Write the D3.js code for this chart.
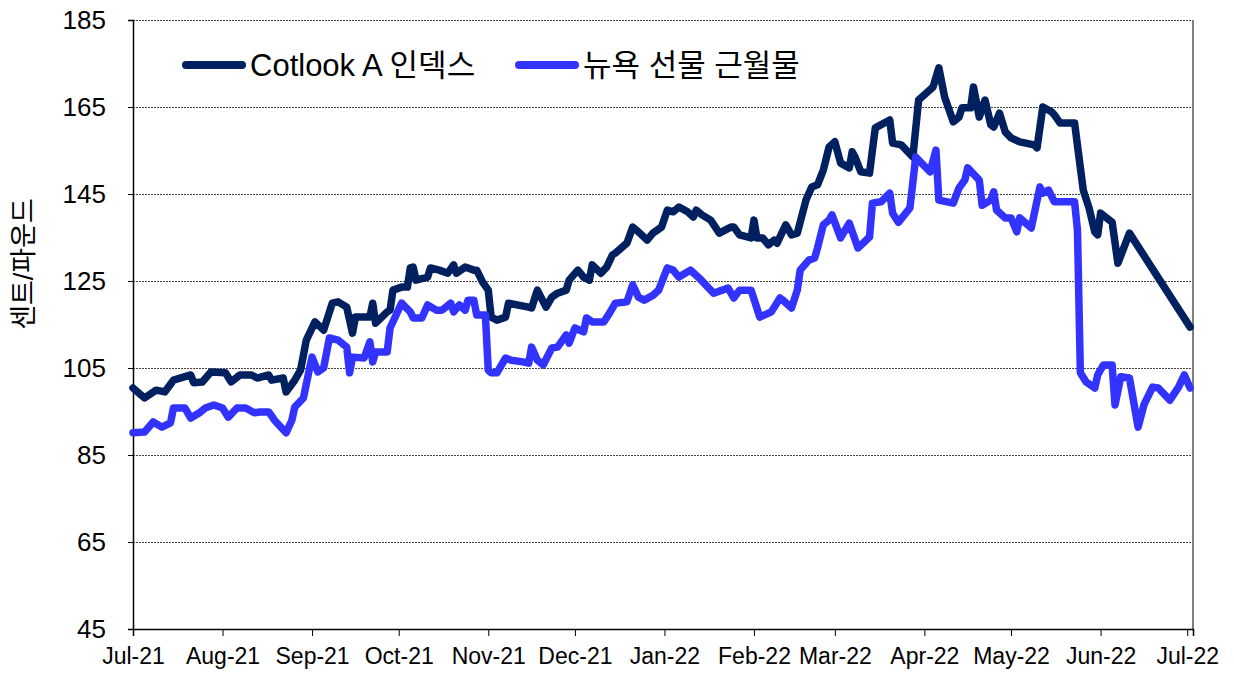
<!DOCTYPE html>
<html>
<head>
<meta charset="utf-8">
<script src="https://cdn.jsdelivr.net/npm/d3@7"></script>
<style>
  body { margin: 0; background: #fff; }
  text { font-family: "Liberation Sans", Arial, "Noto Sans CJK KR", sans-serif; fill: #000; }
</style>
</head>
<body>
<svg id="chart" width="1234" height="673"></svg>
<script>
// series names
const seriesNames = ["Cotlook A 인덱스", "뉴욕 선물 근월물"];
const yTicks = [45, 65, 85, 105, 125, 145, 165, 185];
const monthTicks = ["2021-07-01","2021-08-01","2021-09-01","2021-10-01","2021-11-01","2021-12-01",
  "2022-01-01","2022-02-01","2022-03-01","2022-04-01","2022-05-01","2022-06-01","2022-07-01"];

// Cotlook A index (cents/lb)
const cotlook = [
  ["2021-07-01",100.4],["2021-07-05",98.1],["2021-07-09",99.9],["2021-07-12",99.5],["2021-07-15",102.2],
  ["2021-07-21",103.4],["2021-07-22",101.6],["2021-07-25",101.8],["2021-07-28",104.1],["2021-08-02",103.9],
  ["2021-08-04",101.8],["2021-08-07",103.4],["2021-08-11",103.4],["2021-08-13",102.7],["2021-08-17",103.4],
  ["2021-08-18",102.2],["2021-08-22",102.7],["2021-08-23",99.5],["2021-08-26",102.2],["2021-08-28",104.5],
  ["2021-08-30",111.4],["2021-09-02",115.6],["2021-09-05",113.7],["2021-09-08",119.9],["2021-09-10",120.2],
  ["2021-09-13",119.0],["2021-09-15",113.0],["2021-09-16",116.7],["2021-09-21",116.7],["2021-09-22",119.9],
  ["2021-09-23",115.3],["2021-09-27",117.9],["2021-09-28",118.3],["2021-09-29",122.9],["2021-10-02",123.6],
  ["2021-10-04",123.6],["2021-10-05",128.0],["2021-10-06",128.2],["2021-10-07",125.2],["2021-10-11",125.9],
  ["2021-10-12",128.0],["2021-10-15",127.5],["2021-10-18",126.8],["2021-10-20",128.7],["2021-10-21",126.8],
  ["2021-10-24",128.2],["2021-10-27",127.5],["2021-10-28",127.5],["2021-10-30",124.8],["2021-11-01",122.9],
  ["2021-11-02",116.7],["2021-11-04",116.0],["2021-11-07",116.7],["2021-11-08",119.9],["2021-11-15",119.0],
  ["2021-11-16",118.8],["2021-11-18",122.9],["2021-11-21",119.0],["2021-11-23",121.3],["2021-11-25",122.2],
  ["2021-11-28",122.9],["2021-11-29",125.2],["2021-12-02",127.5],["2021-12-04",125.9],["2021-12-06",125.2],
  ["2021-12-07",128.7],["2021-12-10",126.8],["2021-12-12",128.2],["2021-12-14",131.0],["2021-12-15",131.4],
  ["2021-12-19",133.7],["2021-12-21",137.4],["2021-12-23",136.3],["2021-12-26",134.4],["2021-12-28",136.0],
  ["2021-12-31",137.4],["2022-01-02",141.3],["2022-01-04",140.9],["2022-01-06",142.0],["2022-01-09",140.9],
  ["2022-01-11",139.7],["2022-01-12",141.3],["2022-01-14",140.2],["2022-01-17",139.0],["2022-01-20",136.0],
  ["2022-01-24",137.4],["2022-01-25",137.4],["2022-01-27",135.6],["2022-01-31",134.9],["2022-02-01",139.0],
  ["2022-02-02",134.9],["2022-02-04",134.9],["2022-02-06",133.3],["2022-02-08",134.4],["2022-02-09",133.7],
  ["2022-02-12",137.9],["2022-02-14",135.6],["2022-02-16",136.0],["2022-02-19",143.6],["2022-02-21",146.6],
  ["2022-02-23",147.1],["2022-02-25",150.5],["2022-02-27",155.8],["2022-03-01",157.0],["2022-03-03",152.1],
  ["2022-03-06",151.0],["2022-03-07",154.7],["2022-03-08",153.5],["2022-03-10",150.1],["2022-03-13",149.8],
  ["2022-03-15",160.2],["2022-03-20",162.0],["2022-03-21",156.7],["2022-03-24",156.3],["2022-03-28",153.5],
  ["2022-03-30",166.6],["2022-04-04",169.6],["2022-04-06",174.0],["2022-04-08",167.3],["2022-04-11",161.6],
  ["2022-04-13",162.7],["2022-04-14",164.8],["2022-04-17",164.8],["2022-04-18",169.6],["2022-04-20",162.7],
  ["2022-04-22",166.6],["2022-04-24",160.9],["2022-04-25",160.4],["2022-04-27",163.6],["2022-04-29",159.3],
  ["2022-05-01",157.9],["2022-05-04",157.0],["2022-05-09",156.3],["2022-05-10",155.6],["2022-05-12",165.0],
  ["2022-05-15",163.9],["2022-05-16",163.2],["2022-05-18",161.3],["2022-05-23",161.3],["2022-05-26",145.9],
  ["2022-05-28",141.8],["2022-05-30",136.3],["2022-05-31",135.6],["2022-06-01",140.6],["2022-06-05",138.5],
  ["2022-06-07",129.1],["2022-06-11",136.0],["2022-07-02",114.4]
];

// NY futures nearby (cents/lb)
const nyFutures = [
  ["2021-07-01",90.1],["2021-07-05",90.3],["2021-07-08",92.6],["2021-07-11",91.4],["2021-07-14",92.4],
  ["2021-07-15",95.8],["2021-07-19",95.8],["2021-07-21",93.5],["2021-07-24",94.7],["2021-07-26",95.8],
  ["2021-07-29",96.5],["2021-08-01",95.8],["2021-08-03",93.7],["2021-08-06",95.8],["2021-08-09",95.8],
  ["2021-08-12",94.7],["2021-08-14",94.9],["2021-08-17",94.9],["2021-08-19",93.0],["2021-08-23",90.1],
  ["2021-08-25",93.0],["2021-08-26",96.0],["2021-08-29",98.1],["2021-08-31",104.5],["2021-09-01",107.5],
  ["2021-09-03",104.1],["2021-09-05",105.0],["2021-09-07",111.9],["2021-09-10",111.4],["2021-09-13",109.8],
  ["2021-09-14",103.9],["2021-09-15",107.5],["2021-09-19",107.3],["2021-09-21",111.0],["2021-09-22",106.4],
  ["2021-09-23",108.7],["2021-09-27",108.7],["2021-09-28",114.2],["2021-10-02",119.9],["2021-10-05",117.9],
  ["2021-10-06",116.5],["2021-10-09",116.5],["2021-10-11",119.5],["2021-10-14",118.3],["2021-10-16",118.3],
  ["2021-10-19",119.9],["2021-10-20",117.9],["2021-10-22",119.5],["2021-10-24",118.3],["2021-10-25",120.6],
  ["2021-10-27",120.6],["2021-10-28",117.2],["2021-10-31",117.2],["2021-11-01",104.5],["2021-11-02",103.9],
  ["2021-11-04",103.9],["2021-11-07",107.3],["2021-11-09",106.8],["2021-11-13",106.4],["2021-11-15",106.1],
  ["2021-11-16",109.8],["2021-11-18",106.8],["2021-11-20",105.7],["2021-11-23",109.6],["2021-11-25",109.8],
  ["2021-11-28",112.6],["2021-11-29",110.7],["2021-12-01",114.2],["2021-12-04",113.3],["2021-12-05",116.5],
  ["2021-12-07",115.6],["2021-12-11",115.6],["2021-12-13",117.6],["2021-12-15",119.9],["2021-12-19",120.2],
  ["2021-12-21",124.1],["2021-12-23",121.3],["2021-12-25",120.6],["2021-12-28",121.7],["2021-12-30",122.9],
  ["2022-01-02",128.0],["2022-01-04",127.5],["2022-01-06",125.9],["2022-01-10",127.5],["2022-01-13",125.7],
  ["2022-01-16",123.6],["2022-01-18",122.2],["2022-01-21",122.9],["2022-01-23",123.4],["2022-01-25",121.1],
  ["2022-01-27",122.9],["2022-01-31",122.9],["2022-02-02",118.8],["2022-02-03",116.7],["2022-02-07",117.9],
  ["2022-02-10",121.1],["2022-02-11",120.6],["2022-02-14",118.8],["2022-02-16",122.9],["2022-02-17",127.5],
  ["2022-02-20",129.8],["2022-02-22",130.3],["2022-02-23",132.6],["2022-02-25",137.9],["2022-02-27",139.0],
  ["2022-02-28",140.2],["2022-03-03",134.9],["2022-03-06",138.3],["2022-03-09",132.6],["2022-03-13",135.1],
  ["2022-03-14",142.9],["2022-03-17",143.2],["2022-03-20",145.2],["2022-03-21",140.6],["2022-03-23",138.5],
  ["2022-03-27",141.8],["2022-03-29",153.5],["2022-04-03",150.1],["2022-04-05",155.1],["2022-04-06",143.6],
  ["2022-04-11",142.9],["2022-04-13",146.4],["2022-04-15",148.2],["2022-04-16",151.0],["2022-04-20",148.2],
  ["2022-04-21",142.4],["2022-04-24",143.6],["2022-04-25",145.5],["2022-04-26",141.3],["2022-04-29",139.5],
  ["2022-05-01",139.5],["2022-05-03",136.3],["2022-05-04",139.5],["2022-05-08",137.2],["2022-05-11",146.6],
  ["2022-05-12",145.2],["2022-05-14",145.9],["2022-05-16",143.2],["2022-05-23",143.2],["2022-05-24",136.7],
  ["2022-05-25",103.9],["2022-05-27",101.8],["2022-05-30",100.4],["2022-05-31",103.4],["2022-06-02",105.7],
  ["2022-06-05",105.7],["2022-06-06",96.5],["2022-06-08",103.0],["2022-06-11",102.7],["2022-06-14",91.4],
  ["2022-06-16",96.5],["2022-06-19",100.6],["2022-06-21",100.4],["2022-06-25",97.6],["2022-06-28",100.6],
  ["2022-06-30",103.4],["2022-07-02",100.4]
];

const parse = d3.timeParse("%Y-%m-%d");
const fmt = d3.timeFormat("%b-%y");
const colors = ["#002060", "#3333ff"];

const svg = d3.select("#chart");
const plotL = 133, plotR = 1193, plotT = 20, plotB = 629;

const x = d3.scaleTime()
    .domain([parse("2021-07-01"), parse("2022-07-03")])
    .range([plotL, plotR]);
const y = d3.scaleLinear().domain([45, 185]).range([plotB, plotT]);

// grid lines
svg.append("g")
    .selectAll("line")
    .data(yTicks.filter(v => v > 45))
    .join("line")
    .attr("x1", plotL).attr("x2", plotR - 1)
    .attr("y1", d => y(d) + 0.5).attr("y2", d => y(d) + 0.5)
    .attr("stroke", "#444")
    .attr("stroke-width", 1)
    .attr("stroke-dasharray", "2,1");

// right border
svg.append("line")
    .attr("x1", plotR).attr("x2", plotR)
    .attr("y1", plotT).attr("y2", plotB)
    .attr("stroke", "#808080").attr("stroke-width", 2);

// y axis
const yAxis = svg.append("g")
    .attr("transform", `translate(${plotL},0)`)
    .call(d3.axisLeft(y).tickValues(yTicks).tickSize(5).tickPadding(22).tickFormat(d3.format("d")));
yAxis.select(".domain").attr("stroke", "#000").attr("stroke-width", 1.5);
yAxis.selectAll("text").style("font-size", "26px");

// x axis
const xAxis = svg.append("g")
    .attr("transform", `translate(0,${plotB})`)
    .call(d3.axisBottom(x).tickValues(monthTicks.map(parse)).tickSize(7).tickPadding(12).tickFormat(fmt));
xAxis.select(".domain").attr("stroke", "#000").attr("stroke-width", 1.5);
xAxis.selectAll("text").style("font-size", "23px");

// y title
svg.append("text")
    .attr("transform", "translate(33,264) rotate(-90)")
    .attr("text-anchor", "middle")
    .style("font-size", "27px")
    .text("센트/파운드");

const line = d3.line()
    .x(d => x(parse(d[0])))
    .y(d => y(d[1]));

[cotlook, nyFutures].forEach((s, i) => {
    svg.append("path")
        .datum(s)
        .attr("d", line)
        .attr("fill", "none")
        .attr("stroke", colors[i])
        .attr("stroke-width", 7.5)
        .attr("stroke-linejoin", "round")
        .attr("stroke-linecap", "round");
});

// legend
const legendX = [186, 519];
seriesNames.forEach((name, i) => {
    const g = svg.append("g").attr("transform", `translate(${legendX[i]},65)`);
    g.append("line")
        .attr("x1", 0).attr("x2", 56)
        .attr("stroke", colors[i]).attr("stroke-width", 8)
        .attr("stroke-linecap", "round");
    g.append("text")
        .attr("x", 64).attr("y", 11)
        .style("font-size", "31px")
        .text(name);
});
</script>
</body>
</html>
